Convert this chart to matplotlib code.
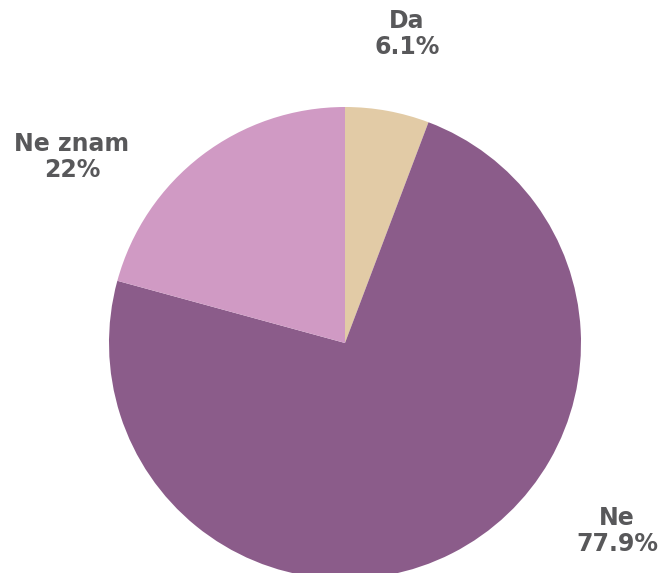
import matplotlib
matplotlib.use("Agg")
import matplotlib.pyplot as plt

categories = ["Da", "Ne", "Ne znam"]
values = [6.1, 77.9, 22]
pct_labels = ["6.1%", "77.9%", "22%"]
colors = ["#E2CBA6", "#8B5C8A", "#D09AC4"]
label_pos = [(407, 34), (617, 531), (72, 157)]  # pixel positions of labels

W, H = 660, 573
fig = plt.figure(figsize=(W / 100, H / 100), dpi=100)
ax = fig.add_axes([0, 0, 1, 1])

cx, cy, r = 345, 343, 236
ax.pie(values, colors=colors, startangle=90, counterclock=False,
       center=(cx, H - cy), radius=r, wedgeprops=dict(linewidth=0))
ax.set_xlim(0, W)
ax.set_ylim(0, H)
ax.set_aspect("equal")
ax.axis("off")

for cat, pct, (px, py) in zip(categories, pct_labels, label_pos):
    ax.text(px, H - py, f"{cat}\n{pct}", ha="center", va="center",
            fontsize=17, fontweight="heavy", color="#58585A",
            family="DejaVu Sans", linespacing=1.15)

fig.savefig("out.png", dpi=100)
